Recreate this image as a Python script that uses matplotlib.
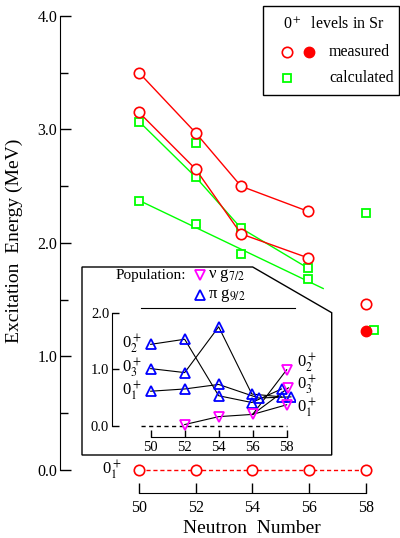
import numpy as np
import matplotlib
matplotlib.use('Agg')
import matplotlib.pyplot as plt
from matplotlib.patches import Polygon, Rectangle

plt.rcParams['font.family'] = ['Liberation Serif', 'DejaVu Serif']
plt.rcParams['mathtext.fontset'] = 'stix'

# --- main panel: 0+ excitation energies in Sr (MeV) ---
n_levels = [50, 52, 53.6, 55.95]
meas_upper = [3.50, 2.97, 2.50, 2.28]
meas_lower = [3.15, 2.65, 2.08, 1.87]
calc_upper = [3.07, 2.58, 2.13, 1.78]
calc_lower = [2.37, 2.17, 1.90, 1.68]
calc_extra_n = [52, 58, 58.3]
calc_extra_e = [2.88, 2.26, 1.23]
meas58_open = [1.46]
meas58_full = [1.22]
ground_n = [50, 52, 54, 56, 58]
ground_e = [0.0, 0.0, 0.0, 0.0, 0.0]

# --- inset: population of nu g7/2 and pi g9/2 ---
pop_n = [50, 52, 54, 55.95, 57.7]
pi_02 = [1.44, 1.53, 0.53, 0.41, 0.65]
pi_03 = [1.01, 0.94, 1.75, 0.56, 0.51]
pi_01_n = [50, 52, 54, 56.35, 58.25]
pi_01 = [0.61, 0.65, 0.73, 0.49, 0.51]
nu_n = [52, 54, 56]
nu_pop = [0.02, 0.16, 0.20]
nu58_n = [58, 58.1, 58]
nu58 = [0.99, 0.67, 0.37]

red = '#ff0000'
green = '#00ff00'
blue = '#0000ff'
mag = '#ff00ff'

W, H = 400, 538
fig = plt.figure(figsize=(W / 100, H / 100), dpi=100)


def rect(x0, y0, x1, y1):
    # pixel box -> figure fraction
    return [x0 / W, 1 - y1 / H, (x1 - x0) / W, (y1 - y0) / H]


ax = fig.add_axes(rect(60, 8, 398, 493))

# calculated
ax.plot(n_levels, calc_upper, color=green, lw=1)
fit = np.polyfit(n_levels, calc_lower, 1)
fit_n = np.array([50, 56.5])
ax.plot(fit_n, np.polyval(fit, fit_n), color=green, lw=1)
sq = dict(ls='none', marker='s', ms=5.5, mfc='white', mec=green, mew=1.3)
ax.plot(n_levels, calc_upper, **sq)
ax.plot(n_levels, calc_lower, **sq)
ax.plot(calc_extra_n, calc_extra_e, **sq)

# measured
circ = dict(marker='o', ms=7.5, mfc='white', mec=red, mew=1.2)
ax.plot(n_levels, meas_upper, color=red, lw=1, **circ)
ax.plot(n_levels, meas_lower, color=red, lw=1, **circ)
ax.plot([58], meas58_open, ls='none', **circ)
ax.plot([58], meas58_full, ls='none', marker='o', ms=7.5, color=red)
ax.plot(ground_n, ground_e, color=red, lw=1, ls='--', dashes=(3, 2), **circ)
ax.text(49.37, 0, r'0$_1^+$', ha='right', va='center', fontsize=12)

ax.set_xlim(47.21, 59.14)
ax.set_ylim(-0.203, 4.07)
for s in ['top', 'right']:
    ax.spines[s].set_visible(False)
ax.spines['left'].set_bounds(0, 4)
ax.spines['bottom'].set_bounds(50, 58)
ax.set_xticks([50, 52, 54, 56, 58])
ax.set_yticks([0, 1, 2, 3, 4])
ax.set_yticklabels(['0.0', '1.0', '2.0', '3.0', '4.0'])
ax.set_yticks([0.5, 1.5, 2.5, 3.5], minor=True)
ax.tick_params(axis='y', which='major', direction='in', length=8, width=1, labelsize=11.5, pad=2)
ax.tick_params(axis='y', which='minor', direction='in', length=6, width=1)
ax.tick_params(axis='x', direction='in', length=7, width=1, labelsize=11.5, pad=5)
ax.set_xlabel('Neutron  Number', fontsize=14)
ax.xaxis.set_label_coords(0.568, -0.055)
ax.set_ylabel('Excitation  Energy (MeV)', fontsize=14)
ax.yaxis.set_label_coords(-0.109, 0.52)

# overlay in pixel coordinates: inset frame and legends
ov = fig.add_axes([0, 0, 1, 1], zorder=1)
ov.set_xlim(0, W)
ov.set_ylim(H, 0)
ov.axis('off')
ov.add_patch(Polygon([(82, 267), (252.7, 267), (331.7, 312.7), (331.7, 455), (82, 455)],
                     closed=True, fc='white', ec='black', lw=1))
ov.add_patch(Rectangle((263, 6), 136, 89, fc='white', ec='black', lw=1))
ov.text(334, 24, r'0$^+$  levels in Sr', ha='center', va='center', fontsize=11.5)
ov.plot([287], [52], ls='none', **circ)
ov.plot([309], [52], ls='none', marker='o', ms=7.5, color=red)
ov.text(329, 52, 'measured', ha='left', va='center', fontsize=11.5)
ov.plot([287], [78], **sq)
ov.text(329, 78, 'calculated', ha='left', va='center', fontsize=11.5)

tri = dict(ls='none', ms=6.5, mfc='none', mew=1.3)
ov.text(116, 275, 'Population:', ha='left', va='center', fontsize=11)
ov.plot([200], [275], marker='v', mec=mag, **tri)
ov.text(208, 275, r'ν g$_{7/2}$', ha='left', va='center', fontsize=12)
ov.plot([200], [295], marker='^', mec=blue, **tri)
ov.text(208, 295, r'π g$_{9/2}$', ha='left', va='center', fontsize=12)
ov.text(297, 363, r'0$_2^+$', ha='left', va='center', fontsize=12)
ov.text(297, 385, r'0$_3^+$', ha='left', va='center', fontsize=12)
ov.text(297, 408, r'0$_1^+$', ha='left', va='center', fontsize=12)

# inset
ins = fig.add_axes(rect(141, 308.3, 295, 436.7), zorder=2)
ins.patch.set_alpha(0)
ins.set_xlim(49.43, 58.49)
ins.set_ylim(-0.195, 2.078)
ins.spines['right'].set_visible(False)
ins.spines['left'].set_position(('outward', 29 * 0.72))
ins.spines['left'].set_bounds(0, 2)
ins.spines['bottom'].set_bounds(50, 58)
ins.plot([ins.get_xlim()[0], 58], [0, 0], color='black', lw=1, ls='--', dashes=(3, 2.5))

lk = dict(color='black', lw=0.8)
ins.plot(pop_n, pi_02, **lk)
ins.plot(pop_n, pi_03, **lk)
ins.plot(pi_01_n, pi_01, **lk)
ins.plot(nu_n, nu_pop, **lk)
for n58, p58 in zip(nu58_n, nu58):
    ins.plot([nu_n[-1], n58], [nu_pop[-1], p58], **lk)
ins.plot(pop_n, pi_02, marker='^', mec=blue, **tri)
ins.plot(pop_n, pi_03, marker='^', mec=blue, **tri)
ins.plot(pi_01_n, pi_01, marker='^', mec=blue, **tri)
ins.plot(nu_n, nu_pop, marker='v', mec=mag, **tri)
ins.plot(nu58_n, nu58, marker='v', mec=mag, **tri)

for lab, val in [(r'0$_2^+$', pi_02[0]), (r'0$_3^+$', pi_03[0]), (r'0$_1^+$', pi_01[0])]:
    ins.text(49.49, val, lab, ha='right', va='center', fontsize=12, clip_on=False)

ins.set_xticks([50, 52, 54, 56, 58])
ins.set_yticks([0, 1, 2])
ins.set_yticklabels(['0.0', '1.0', '2.0'])
ins.tick_params(axis='y', direction='in', length=5, width=1, labelsize=10.5, pad=2)
ins.tick_params(axis='x', direction='in', length=5, width=1, labelsize=10.5, pad=3)

fig.savefig('out.png', dpi=100)
